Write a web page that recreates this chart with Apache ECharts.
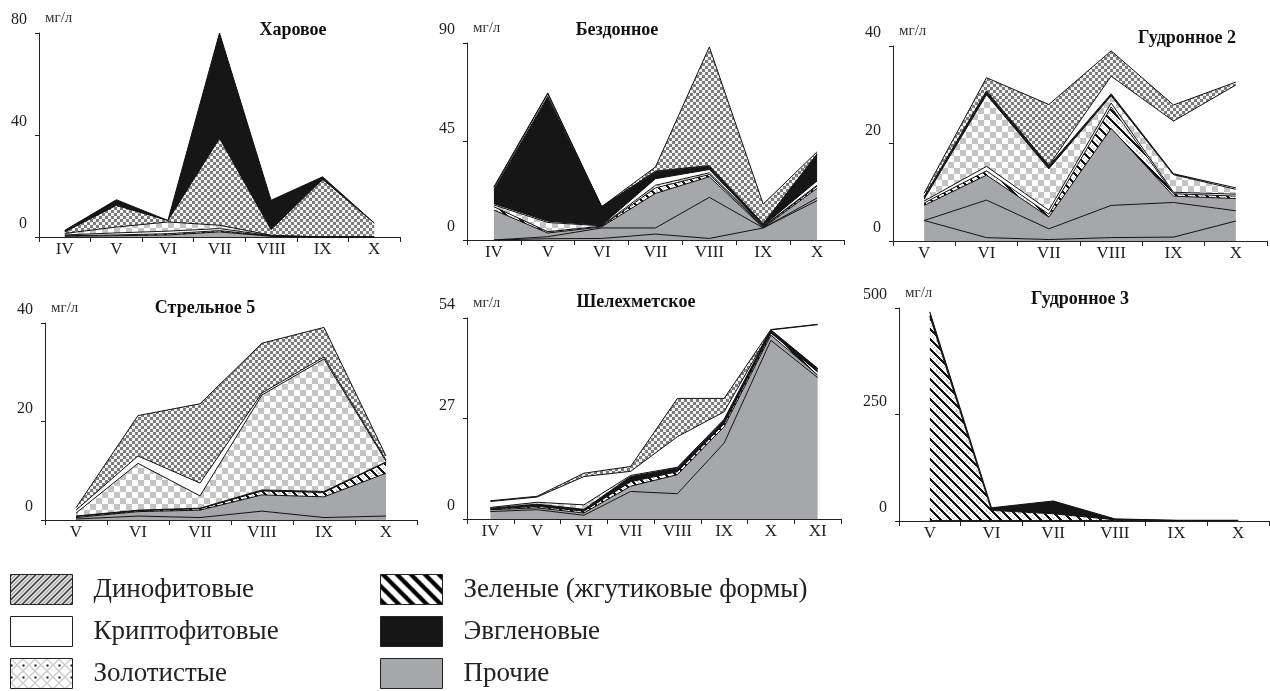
<!DOCTYPE html>
<html>
<head>
<meta charset="utf-8">
<script src="https://cdn.jsdelivr.net/npm/echarts@6/dist/echarts.min.js"></script>
<style>
  html, body { margin: 0; padding: 0; background: #fff; }
  #chart { width: 1270px; height: 691px; }
</style>
</head>
<body>
<div id="chart"></div>
<script>
// group names (legend)
const DINO = 'Динофитовые'
const KRIPTO = 'Криптофитовые'
const ZOLOT = 'Золотистые'
const ZEL = 'Зеленые (жгутиковые формы)'
const EVGL = 'Эвгленовые'
const PROCH = 'Прочие'

// Харовое, мг/л (layer thickness, bottom to top)
const kharMonths = ['IV', 'V', 'VI', 'VII', 'VIII', 'IX', 'X']
const kharProchie = [0.3, 0.5, 0.8, 2.0, 0.3, 0, 0]
const kharZelenye = [0.2, 0.3, 0.5, 0.5, 0.1, 0, 0]
const kharKripto = [0.3, 0.8, 1.0, 0.8, 0.1, 0, 0]
const kharZolot = [0.6, 2.3, 3.6, 1.3, 0.2, 0, 0]
const kharDino = [0.6, 8.5, 0.6, 34.1, 2.2, 22.6, 5.5]
const kharEvgl = [0.6, 2.2, 0, 41.3, 11.5, 1.0, 0]

// Бездонное
const bezMonths = ['IV', 'V', 'VI', 'VII', 'VIII', 'IX', 'X']
const bezProchie1 = [0, 0.6, 0.7, 2.7, 0.7, 5.5, 18.0]
const bezProchie2 = [0, 0.9, 4.8, 2.8, 18.8, 0, 1.2]
const bezProchie3 = [13.7, 1.7, 0.5, 15.8, 9.4, 0.1, 4.4]
const bezZelenye = [1.5, 0.6, 0.3, 2.5, 1.0, 0.4, 1.0]
const bezZolot = [0.8, 4.2, 0.2, 1.2, 0.8, 0.2, 0.4]
const bezKripto = [0.6, 0.6, 0.2, 3.0, 1.5, 0.3, 2.0]
const bezEvgl = [6.5, 57.0, 8.5, 3.2, 1.5, 0.8, 12.0]
const bezKripto2 = [0.8, 1.2, 0, 0.3, 0.3, 0.1, 0.3]
const bezDino = [0.4, 0.4, 0, 1.9, 54.2, 9.0, 1.0]

// Гудронное 2
const gud2Months = ['V', 'VI', 'VII', 'VIII', 'IX', 'X']
const gud2Prochie1 = [4.2, 0.7, 0.3, 0.7, 0.8, 4.1]
const gud2Prochie2 = [0, 7.7, 2.2, 6.6, 7.1, 2.1]
const gud2Prochie3 = [3.1, 5.1, 2.4, 15.8, 1.3, 2.5]
const gud2Zelenye = [0.5, 0.9, 0.6, 4.4, 0.5, 0.5]
const gud2Kripto = [0.4, 0.9, 0.8, 0.8, 0.3, 0.4]
const gud2Zolot = [0.4, 14.7, 8.5, 1.5, 3.6, 1.0]
const gud2Evgl = [0.4, 0.6, 0.6, 0.4, 0.2, 0.3]
const gud2Kripto2 = [0.1, 0.2, 0.1, 3.6, 10.8, 21.1]
const gud2Dino = [0.7, 2.7, 12.5, 5.2, 3.3, 0.6]

// Стрельное 5
const strMonths = ['V', 'VI', 'VII', 'VIII', 'IX', 'X']
const strProchie1 = [0.2, 0.8, 0.5, 1.8, 0.5, 0.8]
const strProchie2 = [0.3, 0.9, 1.5, 3.3, 4.2, 8.7]
const strZelenye = [0.2, 0.2, 0.3, 0.8, 0.9, 2.2]
const strEvgl = [0.1, 0.1, 0.1, 0.2, 0.2, 0.1]
const strZolot = [0.6, 9.5, 2.5, 19.3, 26.9, 0.1]
const strKripto = [0.6, 1.5, 2.6, 0.4, 0.4, 0.3]
const strDino = [0.5, 8.2, 16.1, 10.1, 6.0, 0.8]

// Шелехметское
const shMonths = ['IV', 'V', 'VI', 'VII', 'VIII', 'IX', 'X', 'XI']
const shProchie1 = [2.0, 2.5, 1.0, 7.4, 6.8, 20.4, 48.0, 38.0]
const shProchie2 = [0.5, 0.5, 0.6, 1.4, 5.1, 4.4, 1.4, 0.7]
const shZelenye = [0.2, 0.4, 0.5, 1.2, 0.8, 0.8, 0.6, 0.8]
const shEvgl = [0.2, 0.6, 0.5, 1.4, 1.0, 1.0, 0.7, 0.9]
const shZolot = [0.2, 0.5, 1.2, 0.3, 0.2, 0.2, 0.1, 0.1]
const shKripto = [1.6, 1.4, 7.6, 1.1, 8.2, 2.0, 0.0, 11.7]
const shDino = [0.2, 0.2, 0.9, 1.3, 10.3, 3.6, 0.1, 0.1]

// Гудронное 3
const gud3Months = ['V', 'VI', 'VII', 'VIII', 'IX', 'X']
const gud3Prochie = [1, 1, 1, 1, 0.5, 0.5]
const gud3Zelenye = [480, 24, 16, 2, 1, 1]
const gud3Evgl = [10, 6, 30, 2, 0, 0]

const FONT = "'Liberation Serif', 'DejaVu Serif', serif"

// pixel tiles for the hatch fills
function tile(w, h, paint) {
  const c = document.createElement('canvas')
  c.width = w
  c.height = h
  const ctx = c.getContext('2d')
  for (let y = 0; y < h; y++) {
    for (let x = 0; x < w; x++) {
      ctx.fillStyle = paint(x, y)
      ctx.fillRect(x, y, 1, 1)
    }
  }
  return { image: c, repeat: 'repeat' }
}

const fills = {}
fills[DINO] = tile(6, 6, (x, y) => ((Math.floor(x / 3) + Math.floor(y / 3)) % 2 ? '#7b7b7b' : '#f2f2f2'))
fills[ZOLOT] = tile(12, 12, (x, y) => ((Math.floor(x / 6) + Math.floor(y / 6)) % 2 ? '#c4c4c4' : '#ffffff'))
// diagonal rows of black squares, "\" direction
fills[ZEL] = tile(10, 10, (x, y) => {
  const d = (((x - y) % 10) + 10) % 10
  if (d < 3) return '#111'
  if (d >= 5 && d < 8) return ((Math.floor(x / 2) + Math.floor(y / 2)) % 2 ? '#c8c8c8' : '#fff')
  return '#fff'
})
fills[KRIPTO] = '#ffffff'
fills[EVGL] = '#161616'
fills[PROCH] = '#a6a7aa'

// legend swatches look a bit different from the chart fills
const legendFills = {}
legendFills[DINO] = tile(8, 8, (x, y) => {
  const d = (x + y) % 8
  return d < 2 ? '#111' : (d >= 4 && d < 6 ? '#9a9a9a' : '#fff')
})
legendFills[ZOLOT] = tile(12, 12, (x, y) => {
  if ((x === 0 || x === 1) && (y === 6 || y === 7)) return '#111'
  if ((x + y) % 12 === 0 || (((x - y) % 12) + 12) % 12 === 0) return '#999'
  return '#fff'
})
legendFills[ZEL] = tile(14, 14, (x, y) => ((((x - y) % 14) + 14) % 14 < 6 ? '#000' : '#fff'))
legendFills[KRIPTO] = '#ffffff'
legendFills[EVGL] = '#161616'
legendFills[PROCH] = '#a6a7aa'

const charts = [
  {
    title: 'Харовое', titleX: 293, titleY: 21, months: kharMonths, max: 80, interval: 40,
    grid: { left: 39, top: 33, width: 361, height: 204 },
    layers: [[PROCH, kharProchie], [ZEL, kharZelenye], [KRIPTO, kharKripto], [ZOLOT, kharZolot], [DINO, kharDino], [EVGL, kharEvgl]]
  },
  {
    title: 'Бездонное', titleX: 617, titleY: 21, months: bezMonths, max: 90, interval: 45,
    grid: { left: 467, top: 43, width: 377, height: 197 },
    layers: [[PROCH, bezProchie1], [PROCH, bezProchie2], [PROCH, bezProchie3], [ZEL, bezZelenye], [ZOLOT, bezZolot],
      [KRIPTO, bezKripto], [EVGL, bezEvgl], [KRIPTO, bezKripto2], [DINO, bezDino]]
  },
  {
    title: 'Гудронное 2', titleX: 1187, titleY: 29, months: gud2Months, max: 40, interval: 20,
    grid: { left: 893, top: 46, width: 374, height: 195 },
    layers: [[PROCH, gud2Prochie1], [PROCH, gud2Prochie2], [PROCH, gud2Prochie3], [ZEL, gud2Zelenye], [KRIPTO, gud2Kripto],
      [ZOLOT, gud2Zolot], [EVGL, gud2Evgl], [KRIPTO, gud2Kripto2], [DINO, gud2Dino]]
  },
  {
    title: 'Стрельное 5', titleX: 205, titleY: 299, months: strMonths, max: 40, interval: 20,
    grid: { left: 45, top: 323, width: 372, height: 197 },
    layers: [[PROCH, strProchie1], [PROCH, strProchie2], [ZEL, strZelenye], [EVGL, strEvgl], [ZOLOT, strZolot],
      [KRIPTO, strKripto], [DINO, strDino]]
  },
  {
    title: 'Шелехметское', titleX: 636, titleY: 293, months: shMonths, max: 54, interval: 27,
    grid: { left: 467, top: 318, width: 374, height: 201 },
    layers: [[PROCH, shProchie1], [PROCH, shProchie2], [ZEL, shZelenye], [EVGL, shEvgl], [ZOLOT, shZolot],
      [KRIPTO, shKripto], [DINO, shDino]]
  },
  {
    title: 'Гудронное 3', titleX: 1080, titleY: 290, months: gud3Months, max: 500, interval: 250,
    grid: { left: 899, top: 308, width: 370, height: 213 },
    layers: [[PROCH, gud3Prochie], [ZEL, gud3Zelenye], [EVGL, gud3Evgl]]
  }
]

const grid = []
const xAxis = []
const yAxis = []
const title = []
const series = []

charts.forEach((ch, i) => {
  grid.push(ch.grid)
  title.push({
    text: ch.title, left: ch.titleX, top: ch.titleY, textAlign: 'center', padding: 0,
    textStyle: { fontFamily: FONT, fontSize: 18, fontWeight: 'bold', color: '#111' }
  })
  xAxis.push({
    gridIndex: i, type: 'category', data: ch.months, boundaryGap: true,
    axisLine: { lineStyle: { color: '#222', width: 1 } },
    axisTick: { show: true, length: 5, lineStyle: { color: '#222' } },
    axisLabel: { interval: 0, margin: 4, fontFamily: FONT, fontSize: 17, color: '#222' },
    splitLine: { show: false }
  })
  yAxis.push({
    gridIndex: i, type: 'value', min: 0, max: ch.max, interval: ch.interval,
    name: 'мг/л', nameLocation: 'end', nameGap: 7,
    nameTextStyle: { fontFamily: FONT, fontSize: 15, color: '#333', align: 'left', padding: [0, 0, 0, 6] },
    axisLine: { show: true, lineStyle: { color: '#222', width: 1 } },
    axisTick: { show: true, length: 4, lineStyle: { color: '#222' } },
    axisLabel: { margin: 12, fontFamily: FONT, fontSize: 16, color: '#222', verticalAlign: 'bottom', padding: [0, 0, 5, 0] },
    splitLine: { show: false }
  })
  ch.layers.forEach(([name, vals]) => {
    series.push({
      type: 'line', name: name, xAxisIndex: i, yAxisIndex: i, stack: 'lake' + i,
      data: vals, symbol: 'none', silent: true,
      lineStyle: { color: '#111', width: 1 },
      itemStyle: { color: fills[name] },
      areaStyle: { color: fills[name], opacity: 1 },
      emphasis: { disabled: true }
    })
  })
})

function legendBlock(names, left) {
  return {
    data: names.map(n => ({ name: n, itemStyle: { color: legendFills[n] } })),
    left: left, top: 574, orient: 'vertical', padding: 0,
    itemWidth: 62, itemHeight: 30, itemGap: 11, icon: 'rect', selectedMode: false,
    itemStyle: { borderColor: '#222', borderWidth: 1 },
    textStyle: { fontFamily: FONT, fontSize: 27, color: '#222', padding: [4, 0, 0, 16] }
  }
}

const chart = echarts.init(document.getElementById('chart'))
chart.setOption({
  animation: false,
  backgroundColor: '#fff',
  title: title,
  legend: [legendBlock([DINO, KRIPTO, ZOLOT], 10), legendBlock([ZEL, EVGL, PROCH], 380)],
  grid: grid,
  xAxis: xAxis,
  yAxis: yAxis,
  series: series
})
</script>
</body>
</html>
